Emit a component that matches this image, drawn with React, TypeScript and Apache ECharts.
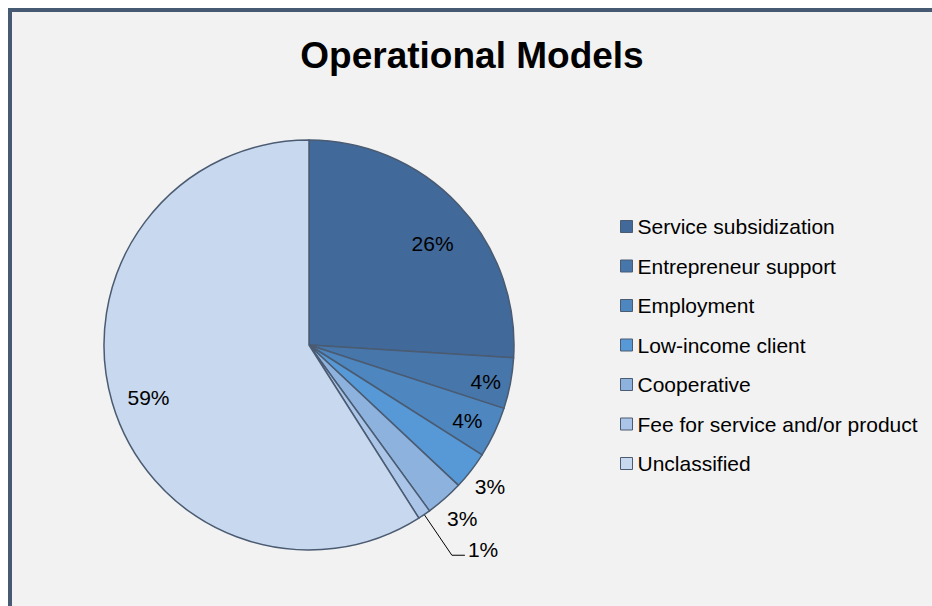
import React, { useEffect, useRef } from "react";
import * as echarts from "echarts";

const title = "Operational Models";
const categories = [
  "Service subsidization",
  "Entrepreneur support",
  "Employment",
  "Low-income client",
  "Cooperative",
  "Fee for service and/or product",
  "Unclassified",
];
const values = [26, 4, 4, 3, 3, 1, 59];
const colors = ["#41699a", "#4776ab", "#4e87c0", "#5799d6", "#8db2dd", "#aac5e7", "#c8d8ee"];
// label placement style per slice
const placement = ["inside", "inside", "inside", "outside", "outside", "leader", "inside"];
const labelRadius = [0.78, 0.88, 0.855, 1.12, 1.13, 1.24, 0.824];
const labelTurnDeg = [3.8, 0.8, 0.2, 0.2, 0, 0, -2];

const W = 920;
const H = 594;
const CX = 297;
const CY = 333;
const R = 205;

export default function App() {
  const ref = useRef<HTMLDivElement>(null);
  useEffect(() => {
    if (!ref.current) return;
    const chart = echarts.init(ref.current, undefined, { renderer: "svg" });
    const total = values.reduce((a, b) => a + b, 0);
    const midAngle = (i: number) => {
      const before = values.slice(0, i).reduce((a, b) => a + b, 0);
      return ((before + values[i] / 2) / total) * Math.PI * 2;
    };
    const font = "'Liberation Sans', Arial, sans-serif";
    chart.setOption({
      animation: false,
      backgroundColor: "transparent",
      title: {
        text: title,
        left: "center",
        top: 20,
        textStyle: { fontFamily: font, fontSize: 37, fontWeight: "bold", color: "#000" },
      },
      legend: {
        orient: "vertical",
        left: 603,
        top: 199,
        icon: "rect",
        itemWidth: 12,
        itemHeight: 12,
        itemGap: 18.5,
        data: categories,
        itemStyle: { borderColor: "#4a5b72", borderWidth: 1 },
        textStyle: { fontFamily: font, fontSize: 21, lineHeight: 21, color: "#000" },
      },
      series: [
        {
          type: "pie",
          center: [CX, CY],
          radius: [0, R],
          startAngle: 90,
          clockwise: true,
          avoidLabelOverlap: false,
          itemStyle: { borderColor: "#4a5b72", borderWidth: 1.5 },
          emphasis: { disabled: true },
          label: {
            show: true,
            position: "outside",
            formatter: "{c}%",
            fontFamily: font,
            fontSize: 21,
            color: "#000",
          },
          labelLine: { show: false, lineStyle: { color: "#000", width: 1 } },
          data: categories.map((name, i) => ({
            name,
            value: values[i],
            itemStyle: { color: colors[i] },
            labelLine: { show: placement[i] === "leader" },
          })),
          labelLayout: (p: any) => {
            const i = p.dataIndex;
            const a = midAngle(i) + (labelTurnDeg[i] * Math.PI) / 180;
            const sx = Math.sin(a);
            const sy = -Math.cos(a);
            const f = labelRadius[i];
            if (placement[i] !== "leader") {
              return { x: CX + sx * R * f, y: CY + sy * R * f, align: "center", verticalAlign: "middle" };
            }
            const ex = CX + sx * R;
            const ey = CY + sy * R;
            const kx = CX + sx * R * f;
            const ky = CY + sy * R * f;
            const hx = kx + 13;
            return {
              x: hx + 3,
              y: ky - 6,
              align: "left",
              verticalAlign: "middle",
              labelLinePoints: [
                [ex, ey],
                [kx, ky],
                [hx, ky],
              ],
            };
          },
        },
      ],
    });
    return () => chart.dispose();
  }, []);
  return (
    <div
      style={{
        position: "fixed",
        left: 8,
        top: 8,
        width: 924,
        height: 598,
        boxSizing: "border-box",
        borderLeft: "4px solid #475a74",
        borderTop: "4px solid #475a74",
        background: "#f2f2f2",
      }}
    >
      <div ref={ref} style={{ width: W, height: H }} />
    </div>
  );
}
